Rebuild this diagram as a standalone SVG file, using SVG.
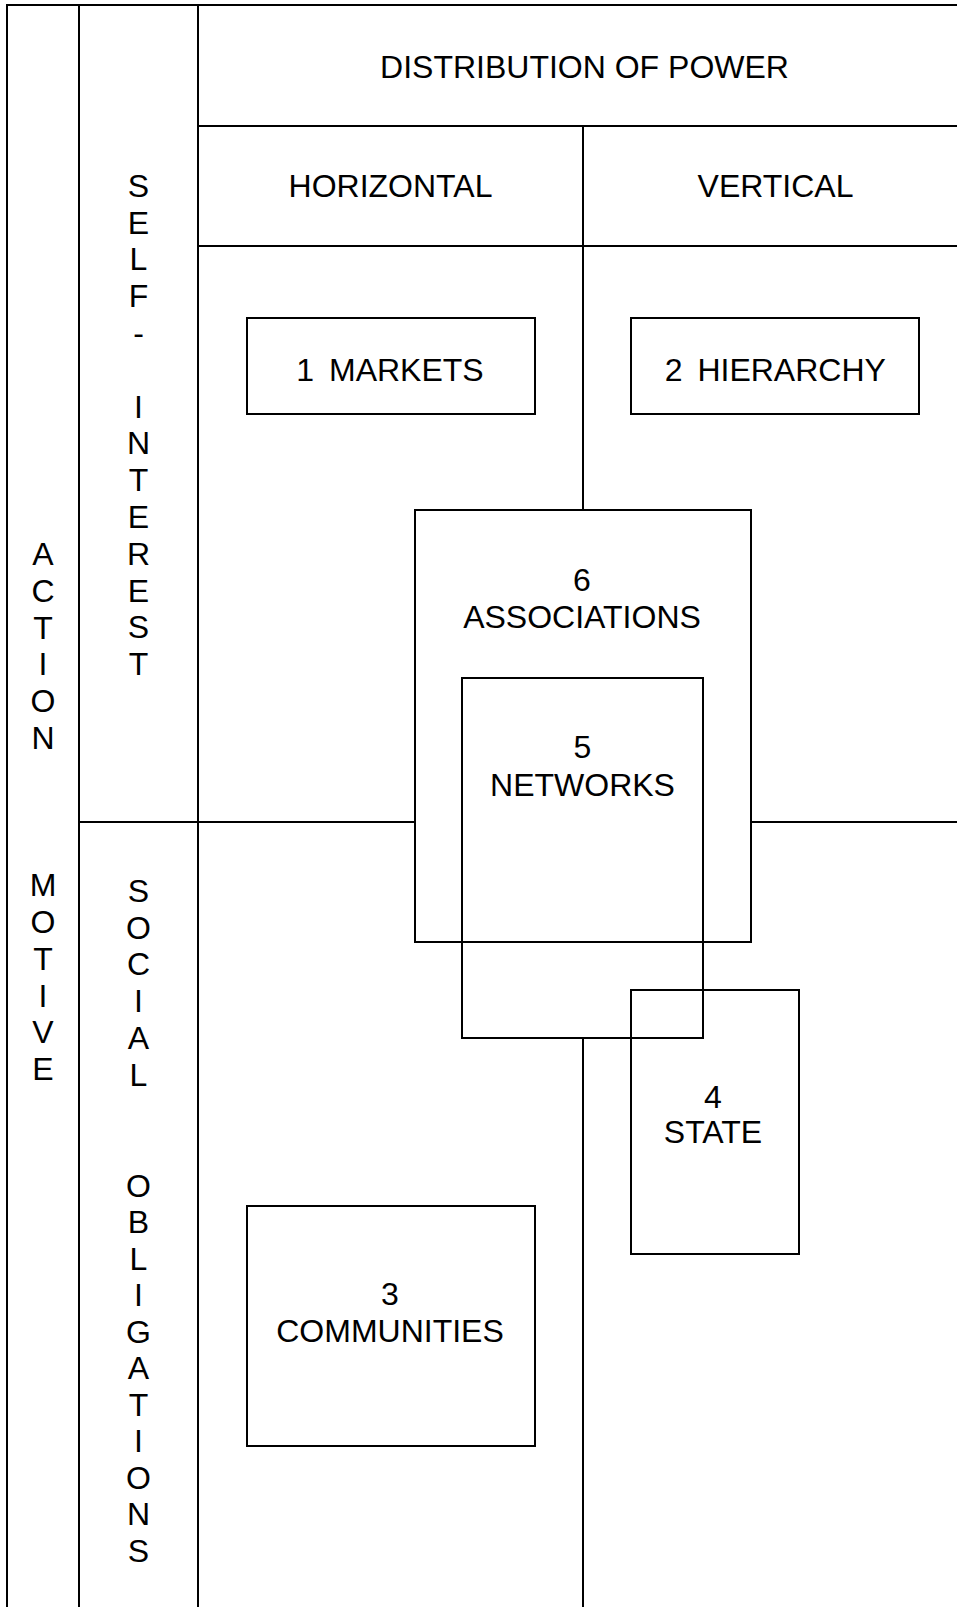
<svg xmlns="http://www.w3.org/2000/svg" width="957" height="1607" viewBox="0 0 957 1607">
<style>
  .ln { stroke: #000; stroke-width: 2; fill: none; }
  .bx { stroke: #000; stroke-width: 2; fill: none; }
  text { font-family: "Liberation Sans", Arial, sans-serif; font-size: 32px; fill: #000; text-anchor: middle; }
</style>
<rect x="0" y="0" width="957" height="1607" fill="#fff"/>
<g id="connectors">
  <line class="ln" x1="7" y1="5" x2="957" y2="5"/>
  <line class="ln" x1="7" y1="4" x2="7" y2="1607"/>
  <line class="ln" x1="79" y1="5" x2="79" y2="1607"/>
  <line class="ln" x1="198" y1="5" x2="198" y2="1607"/>
  <line class="ln" x1="198" y1="126" x2="957" y2="126"/>
  <line class="ln" x1="198" y1="246" x2="957" y2="246"/>
  <line class="ln" x1="583" y1="126" x2="583" y2="510"/>
  <line class="ln" x1="583" y1="1038" x2="583" y2="1607"/>
  <line class="ln" x1="79" y1="822" x2="415" y2="822"/>
  <line class="ln" x1="751" y1="822" x2="957" y2="822"/>
</g>
<g id="header">
  <text x="584.5" y="77.7">DISTRIBUTION OF POWER</text>
  <text x="390.5" y="197.3">HORIZONTAL</text>
  <text x="775.5" y="197.3">VERTICAL</text>
</g>
<g id="action-motive">
  <text x="43"><tspan x="43" y="565">A</tspan><tspan x="43" y="601.8">C</tspan><tspan x="43" y="638.6">T</tspan><tspan x="43" y="675.4">I</tspan><tspan x="43" y="712.2">O</tspan><tspan x="43" y="749">N</tspan><tspan x="43" y="896.2">M</tspan><tspan x="43" y="933">O</tspan><tspan x="43" y="969.8">T</tspan><tspan x="43" y="1006.6">I</tspan><tspan x="43" y="1043.4">V</tspan><tspan x="43" y="1080.2">E</tspan></text>
</g>
<g id="self-interest">
  <text x="138.5"><tspan x="138.5" y="196.7">S</tspan><tspan x="138.5" y="233.5">E</tspan><tspan x="138.5" y="270.3">L</tspan><tspan x="138.5" y="307.1">F</tspan><tspan x="138.5" y="343.9">-</tspan><tspan x="138.5" y="417.5">I</tspan><tspan x="138.5" y="454.3">N</tspan><tspan x="138.5" y="491.1">T</tspan><tspan x="138.5" y="527.9">E</tspan><tspan x="138.5" y="564.7">R</tspan><tspan x="138.5" y="601.5">E</tspan><tspan x="138.5" y="638.3">S</tspan><tspan x="138.5" y="675.1">T</tspan></text>
</g>
<g id="social-obligations">
  <text x="138.5"><tspan x="138.5" y="901.7">S</tspan><tspan x="138.5" y="938.5">O</tspan><tspan x="138.5" y="975.3">C</tspan><tspan x="138.5" y="1012.1">I</tspan><tspan x="138.5" y="1048.9">A</tspan><tspan x="138.5" y="1085.7">L</tspan><tspan x="138.5" y="1196.7">O</tspan><tspan x="138.5" y="1233.2">B</tspan><tspan x="138.5" y="1269.7">L</tspan><tspan x="138.5" y="1306.2">I</tspan><tspan x="138.5" y="1342.7">G</tspan><tspan x="138.5" y="1379.2">A</tspan><tspan x="138.5" y="1415.7">T</tspan><tspan x="138.5" y="1452.2">I</tspan><tspan x="138.5" y="1488.7">O</tspan><tspan x="138.5" y="1525.2">N</tspan><tspan x="138.5" y="1561.7">S</tspan></text>
</g>
<g id="markets">
  <rect class="bx" x="247" y="318" width="288" height="96"/>
  <text x="390" y="381" xml:space="preserve" style="word-spacing:6px">1 MARKETS</text>
</g>
<g id="hierarchy">
  <rect class="bx" x="631" y="318" width="288" height="96"/>
  <text x="775.3" y="381" style="word-spacing:6px">2 HIERARCHY</text>
</g>
<g id="associations">
  <rect class="bx" x="415" y="510" width="336" height="432"/>
  <text x="582"><tspan x="582" y="590.7">6</tspan><tspan x="582" y="628.3">ASSOCIATIONS</tspan></text>
</g>
<g id="networks">
  <rect class="bx" x="462" y="678" width="241" height="360"/>
  <text x="582.5"><tspan x="582.5" y="758.3">5</tspan><tspan x="582.5" y="796">NETWORKS</tspan></text>
</g>
<g id="state">
  <rect class="bx" x="631" y="990" width="168" height="264"/>
  <text x="713"><tspan x="713" y="1107.7">4</tspan><tspan x="713" y="1143">STATE</tspan></text>
</g>
<g id="communities">
  <rect class="bx" x="247" y="1206" width="288" height="240"/>
  <text x="390"><tspan x="390" y="1305">3</tspan><tspan x="390" y="1342">COMMUNITIES</tspan></text>
</g>
</svg>
